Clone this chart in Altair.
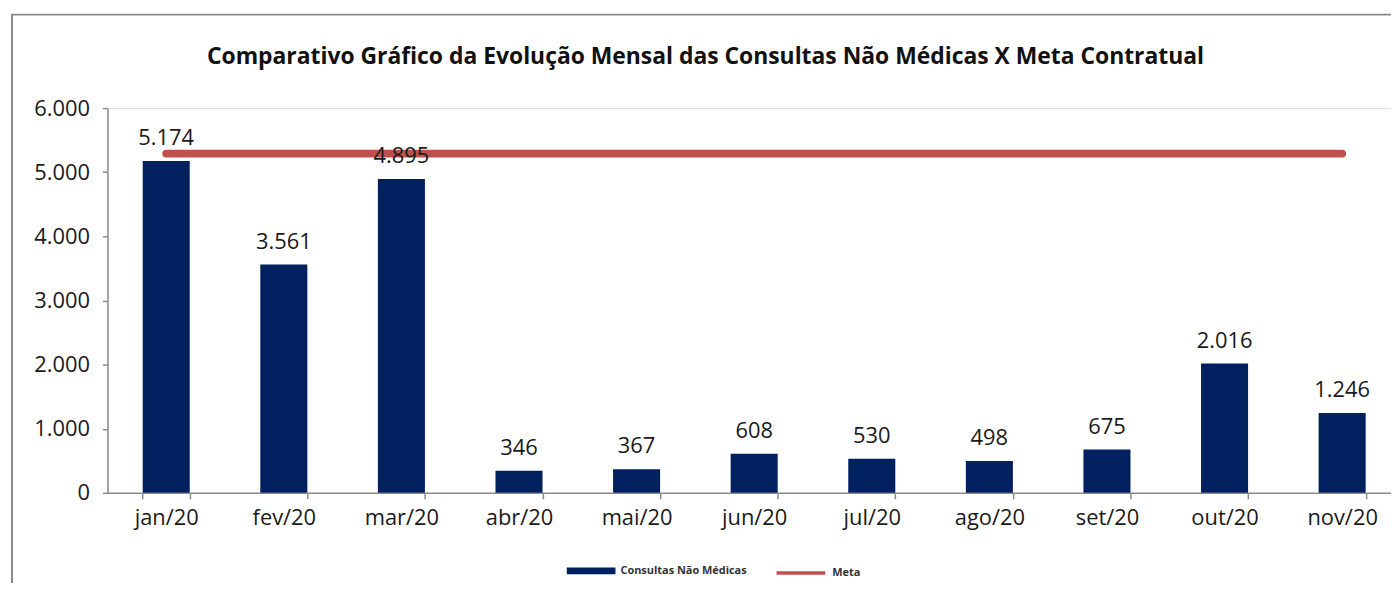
import altair as alt
import pandas as pd

meses = ["jan/20", "fev/20", "mar/20", "abr/20", "mai/20", "jun/20",
         "jul/20", "ago/20", "set/20", "out/20", "nov/20"]
consultas = [5174, 3561, 4895, 346, 367, 608, 530, 498, 675, 2016, 1246]
meta = [5290] * len(meses)
serie_bar = "Consultas Não Médicas"
serie_meta = "Meta"
titulo = "Comparativo Gráfico da Evolução Mensal das Consultas Não Médicas X Meta Contratual"
y_ticks = [0, 1000, 2000, 3000, 4000, 5000, 6000]

NAVY = "#002060"
RED = "#C0504D"
FONT = "Open Sans"
AXIS_GRAY = "#8C8C8C"
TXT = "#1a1a1a"

df_bar = pd.DataFrame({
    "mes": meses,
    "valor": consultas,
    "serie": serie_bar,
    "rotulo": [f"{v:,}".replace(",", ".") for v in consultas],
})
df_meta = pd.DataFrame({"mes": meses, "valor": meta, "serie": serie_meta})

x_enc = alt.X(
    "mes:N", sort=meses, title=None,
    scale=alt.Scale(range=[0, 1301], paddingInner=0.6, paddingOuter=0.3),
    axis=alt.Axis(labelAngle=0, labelFont=FONT, labelFontSize=22, labelColor=TXT,
                  labelPadding=9, tickBand="extent", tickSize=6, tickColor=AXIS_GRAY,
                  domainColor=AXIS_GRAY, domainWidth=1.5, tickWidth=1.5, grid=False),
)
y_scale = alt.Scale(domain=[0, 6000], nice=False)
y_axis = alt.Axis(values=y_ticks, title=None, grid=False, labelFont=FONT, labelFontSize=22,
                  labelColor=TXT, labelPadding=13, tickSize=5, tickColor=AXIS_GRAY,
                  domainColor=AXIS_GRAY, domainWidth=1.5, tickWidth=1.5,
                  labelExpr="replace(format(datum.value, ',.0f'), ',', '.')")

leg_common = dict(title=None, orient="none", direction="horizontal",
                  labelFont=FONT, labelFontSize=11, labelFontWeight="bold",
                  labelColor="#333333", symbolSize=2401, labelOffset=5, symbolOpacity=1)

legend_bar = alt.Legend(legendX=462, legendY=441,
                        symbolType="M-1,-0.14L1,-0.14L1,0.14L-1,0.14Z",
                        symbolStrokeWidth=0, **leg_common)
legend_meta = alt.Legend(legendX=671, legendY=441, symbolType="stroke",
                         symbolStrokeWidth=3.5, **leg_common)

frame = alt.Chart(pd.DataFrame({"a": [0]})).mark_rect(
    fill="transparent", stroke="#8A8A8A", strokeWidth=2
).encode(x=alt.value(-96), x2=alt.value(1400), y=alt.value(-94), y2=alt.value(700))

bars = alt.Chart(df_bar).mark_bar().encode(
    x=x_enc,
    y=alt.Y("valor:Q", scale=y_scale, axis=y_axis),
    fill=alt.Fill("serie:N", scale=alt.Scale(domain=[serie_bar], range=[NAVY]),
                  legend=legend_bar),
)

line = alt.Chart(df_meta).mark_line(strokeWidth=8, strokeCap="round").encode(
    x=alt.X("mes:N", sort=meses),
    y=alt.Y("valor:Q", scale=y_scale),
    stroke=alt.Stroke("serie:N", scale=alt.Scale(domain=[serie_meta], range=[RED]),
                      legend=legend_meta),
)

labels = alt.Chart(df_bar).mark_text(
    font=FONT, fontSize=22, color=TXT, baseline="alphabetic", dy=-16
).encode(
    x=alt.X("mes:N", sort=meses),
    y=alt.Y("valor:Q", scale=y_scale),
    text="rotulo:N",
)

chart = alt.layer(frame, bars, line, labels).properties(
    width=1291, height=387,
    autosize=alt.AutoSizeParams(type="none"),
    padding={"left": 100, "top": 99, "right": 0, "bottom": 89},
    title=alt.TitleParams(titulo, font=FONT, fontSize=23, fontWeight="bold",
                          color="#111111", anchor="middle", frame="group",
                          dx=-44, offset=-56),
).resolve_scale(fill="independent", stroke="independent"
).configure_view(stroke=None).configure(background="white")

chart.save("out.html", embed_options={"renderer": "svg", "actions": False})
